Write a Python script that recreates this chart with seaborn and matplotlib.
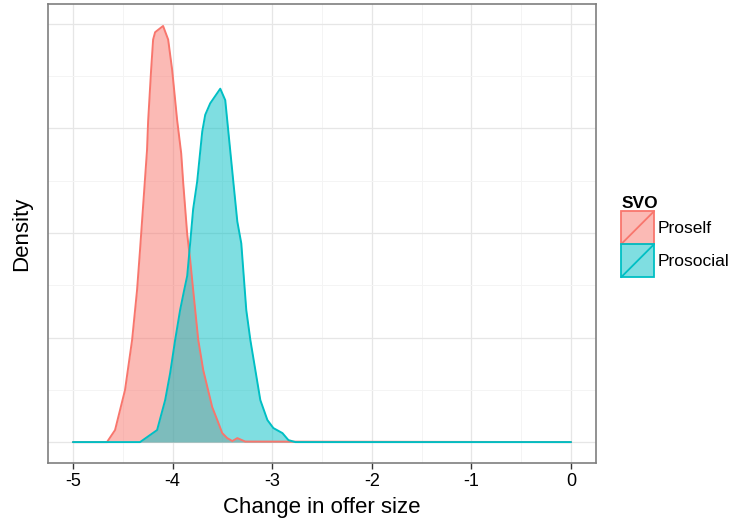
import numpy as np
import pandas as pd
import seaborn as sns
import matplotlib
matplotlib.use("Agg")
import matplotlib.pyplot as plt
from matplotlib.patches import Rectangle, Patch
from matplotlib.lines import Line2D
from matplotlib.legend_handler import HandlerBase

# density curves (x = change in offer size, y = density)
proself_x = [-5.0, -4.658, -4.577, -4.477, -4.406, -4.356, -4.326, -4.256, -4.245, -4.215,
             -4.195, -4.175, -4.095, -4.044, -4.004, -3.954, -3.913, -3.893, -3.853, -3.823,
             -3.783, -3.742, -3.692, -3.602, -3.551, -3.501, -3.451, -3.40, -3.35, -3.27, 0.0]
proself_y = [0.0, 0.0, 0.115, 0.498, 0.976, 1.455, 1.842, 2.794, 3.07, 3.56,
             3.85, 3.92, 3.98, 3.85, 3.56, 3.08, 2.76, 2.48, 1.99, 1.74,
             1.36, 0.977, 0.689, 0.335, 0.211, 0.086, 0.038, 0.01, 0.038, 0.005, 0.0]

prosocial_x = [-5.0, -4.326, -4.155, -4.074, -4.024, -3.974, -3.924, -3.883, -3.853, -3.823,
               -3.793, -3.753, -3.702, -3.672, -3.622, -3.521, -3.471, -3.441, -3.39, -3.35,
               -3.31, -3.26, -3.219, -3.169, -3.119, -3.048, -2.988, -2.897, -2.837, -2.767, 0.0]
prosocial_y = [0.0, 0.0, 0.115, 0.402, 0.66, 0.976, 1.263, 1.455, 1.589, 1.904,
               2.23, 2.49, 2.97, 3.13, 3.24, 3.38, 3.27, 2.98, 2.49, 2.11,
               1.9, 1.263, 0.976, 0.689, 0.402, 0.211, 0.134, 0.086, 0.019, 0.0, 0.0]

groups = ["Proself", "Prosocial"]
colors = {"Proself": "#F8766D", "Prosocial": "#00BFC4"}

df = pd.concat([
    pd.DataFrame({"x": proself_x, "y": proself_y, "SVO": "Proself"}),
    pd.DataFrame({"x": prosocial_x, "y": prosocial_y, "SVO": "Prosocial"}),
])

sns.set_theme(style="whitegrid")
plt.rcParams["font.family"] = ["Liberation Sans", "DejaVu Sans"]
plt.rcParams["axes.unicode_minus"] = False
plt.rcParams["text.color"] = "black"

fig = plt.figure(figsize=(7.33, 5.18), dpi=100)
ax = fig.add_axes([48 / 733, 1 - 463 / 518, (596 - 48) / 733, (463 - 4) / 518])

for g in groups:
    d = df[df.SVO == g]
    ax.fill_between(d.x, 0, d.y, color=colors[g], alpha=0.5, lw=0, zorder=2)
    sns.lineplot(data=d, x="x", y="y", color=colors[g], lw=1.4, ax=ax,
                 sort=False, estimator=None, zorder=3)

ax.set_xlim(-5.25, 0.25)
ax.set_ylim(-0.2, 4.19)
ax.set_xticks([-5, -4, -3, -2, -1, 0])
ax.set_xticks([-4.5, -3.5, -2.5, -1.5, -0.5], minor=True)
ax.set_yticks([0, 1, 2, 3, 4])
ax.set_yticks([0.5, 1.5, 2.5, 3.5], minor=True)
ax.grid(which="major", color="#e6e6e6", lw=0.9)
ax.grid(which="minor", color="#f4f4f4", lw=0.7)
ax.set_axisbelow(True)
ax.set_yticklabels([])
ax.tick_params(axis="y", which="both", length=0)
ax.tick_params(axis="x", which="major", length=4, width=1, color="#333333",
               labelsize=13, labelcolor="black", pad=3, bottom=True)
ax.tick_params(axis="x", which="minor", length=0)
for s in ax.spines.values():
    s.set_color("#7f7f7f")
    s.set_linewidth(1.2)

ax.set_xlabel("Change in offer size", fontsize=16, labelpad=5, color="black")
ax.set_ylabel("Density", fontsize=16, labelpad=8, color="black")


class DensityKey(HandlerBase):
    def create_artists(self, legend, orig_handle, xdescent, ydescent, width, height, fontsize, trans):
        rect = Rectangle((-xdescent, -ydescent), width, height, facecolor=orig_handle.get_facecolor(),
                         edgecolor=orig_handle.get_edgecolor(), lw=1.3, transform=trans)
        line = Line2D([-xdescent, -xdescent + width], [-ydescent, -ydescent + height],
                      color=orig_handle.get_edgecolor(), lw=1.3, transform=trans)
        return [rect, line]


handles = [Patch(facecolor=matplotlib.colors.to_rgba(colors[g], 0.5), edgecolor=colors[g]) for g in groups]
leg = fig.legend(handles, groups, title="SVO", loc="upper left", bbox_to_anchor=(609 / 733, 1 - 184 / 518),
                 frameon=False, fontsize=12.5, title_fontproperties={"weight": "bold", "size": 12.5},
                 handler_map={Patch: DensityKey()}, handlelength=1.9, handleheight=2.55,
                 labelspacing=0.0, handletextpad=0.2, borderpad=0.2, alignment="left")

fig.savefig("out.png", dpi=100)
